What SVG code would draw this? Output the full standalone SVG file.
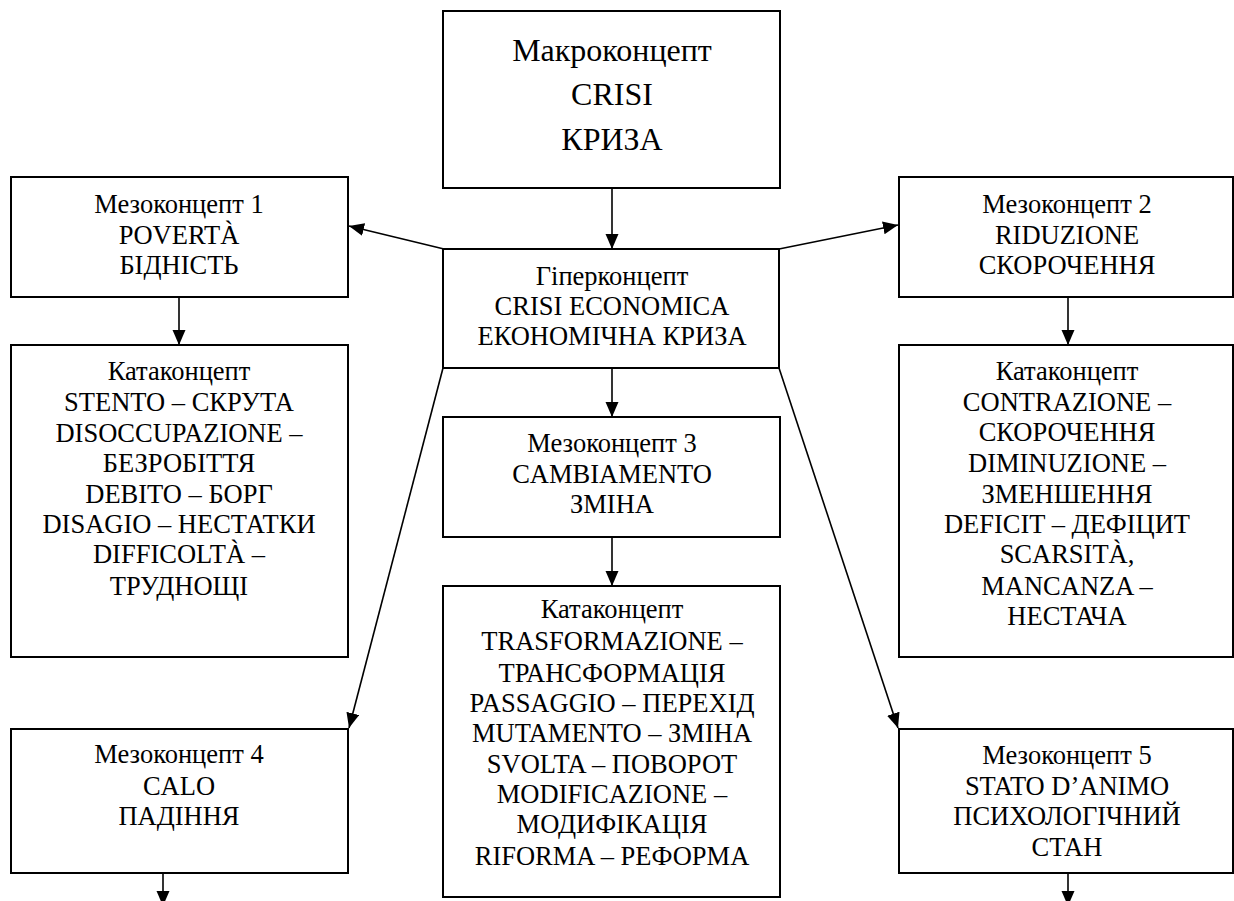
<svg xmlns="http://www.w3.org/2000/svg" width="1234" height="901" viewBox="0 0 1234 901">
<style>
.box{fill:#fff;stroke:#000;stroke-width:2}
.t{font-family:"Liberation Serif","Times New Roman",serif;font-size:26.5px;fill:#000;text-anchor:middle}
.big{font-size:32px}
.c{stroke:#000;stroke-width:1.6;fill:none;marker-end:url(#ah)}
</style>
<defs>
<marker id="ah" markerUnits="userSpaceOnUse" markerWidth="16" markerHeight="14" refX="15" refY="6.5" orient="auto">
<path d="M0,0 L15,6.5 L0,13 z" fill="#000"/>
</marker>
</defs>
<rect width="1234" height="901" fill="#fff"/>

<g id="connectors">
<line class="c" x1="612" y1="188" x2="612" y2="249"/>
<line class="c" x1="444" y1="249" x2="349" y2="226"/>
<line class="c" x1="779" y1="249" x2="898" y2="225"/>
<line class="c" x1="179" y1="297" x2="179" y2="345"/>
<line class="c" x1="1068" y1="297" x2="1068" y2="345"/>
<line class="c" x1="612" y1="368" x2="612" y2="417"/>
<line class="c" x1="612" y1="537" x2="612" y2="586"/>
<line class="c" x1="443" y1="368" x2="349" y2="728"/>
<line class="c" x1="779" y1="368" x2="898" y2="728"/>
<line class="c" x1="163" y1="873" x2="163" y2="906"/>
<line class="c" x1="1068" y1="873" x2="1068" y2="906"/>
</g>

<g id="macro">
<rect class="box" x="443" y="11" width="337" height="177"/>
<text class="t big"><tspan x="612" y="61">Макроконцепт</tspan><tspan x="612" y="105">CRISI</tspan><tspan x="612" y="150">КРИЗА</tspan></text>
</g>

<g id="hyper">
<rect class="box" x="443" y="249" width="336" height="119"/>
<text class="t"><tspan x="612" y="285">Гіперконцепт</tspan><tspan x="612" y="315">CRISI ECONOMICA</tspan><tspan x="612" y="345">ЕКОНОМІЧНА КРИЗА</tspan></text>
</g>

<g id="meso1">
<rect class="box" x="11" y="177" width="337" height="120"/>
<text class="t"><tspan x="179" y="213">Мезоконцепт 1</tspan><tspan x="179" y="244">POVERTÀ</tspan><tspan x="179" y="274">БІДНІСТЬ</tspan></text>
</g>

<g id="meso2">
<rect class="box" x="899" y="177" width="334" height="120"/>
<text class="t"><tspan x="1067" y="213">Мезоконцепт 2</tspan><tspan x="1067" y="244">RIDUZIONE</tspan><tspan x="1067" y="274">СКОРОЧЕННЯ</tspan></text>
</g>

<g id="kata1">
<rect class="box" x="11" y="345" width="337" height="312"/>
<text class="t"><tspan x="179" y="380">Катаконцепт</tspan><tspan x="179" y="411">STENTO – СКРУТА</tspan><tspan x="179" y="442">DISOCCUPAZIONE –</tspan><tspan x="179" y="472">БЕЗРОБІТТЯ</tspan><tspan x="179" y="503">DEBITO – БОРГ</tspan><tspan x="179" y="533">DISAGIO – НЕСТАТКИ</tspan><tspan x="179" y="563">DIFFICOLTÀ –</tspan><tspan x="179" y="595">ТРУДНОЩІ</tspan></text>
</g>

<g id="kata2">
<rect class="box" x="899" y="345" width="334" height="312"/>
<text class="t"><tspan x="1067" y="380">Катаконцепт</tspan><tspan x="1067" y="411">CONTRAZIONE –</tspan><tspan x="1067" y="441">СКОРОЧЕННЯ</tspan><tspan x="1067" y="472">DIMINUZIONE –</tspan><tspan x="1067" y="503">ЗМЕНШЕННЯ</tspan><tspan x="1067" y="533">DEFICIT – ДЕФІЦИТ</tspan><tspan x="1067" y="563">SCARSITÀ,</tspan><tspan x="1067" y="595">MANCANZA –</tspan><tspan x="1067" y="625">НЕСТАЧА</tspan></text>
</g>

<g id="meso3">
<rect class="box" x="443" y="417" width="337" height="120"/>
<text class="t"><tspan x="612" y="452">Мезоконцепт 3</tspan><tspan x="612" y="483">CAMBIAMENTO</tspan><tspan x="612" y="513">ЗМІНА</tspan></text>
</g>

<g id="kata3">
<rect class="box" x="443" y="586" width="337" height="311"/>
<text class="t"><tspan x="612" y="618">Катаконцепт</tspan><tspan x="612" y="650">TRASFORMAZIONE –</tspan><tspan x="612" y="682">ТРАНСФОРМАЦІЯ</tspan><tspan x="612" y="712">PASSAGGIO – ПЕРЕХІД</tspan><tspan x="612" y="742">MUTAMENTO – ЗМІНА</tspan><tspan x="612" y="773">SVOLTA – ПОВОРОТ</tspan><tspan x="612" y="803">MODIFICAZIONE –</tspan><tspan x="612" y="833">МОДИФІКАЦІЯ</tspan><tspan x="612" y="865">RIFORMA – РЕФОРМА</tspan></text>
</g>

<g id="meso4">
<rect class="box" x="11" y="729" width="337" height="144"/>
<text class="t"><tspan x="179" y="763">Мезоконцепт 4</tspan><tspan x="179" y="795">CALO</tspan><tspan x="179" y="825">ПАДІННЯ</tspan></text>
</g>

<g id="meso5">
<rect class="box" x="899" y="729" width="334" height="144"/>
<text class="t"><tspan x="1067" y="764">Мезоконцепт 5</tspan><tspan x="1067" y="795">STATO D’ANIMO</tspan><tspan x="1067" y="825">ПСИХОЛОГІЧНИЙ</tspan><tspan x="1067" y="856">СТАН</tspan></text>
</g>
</svg>
